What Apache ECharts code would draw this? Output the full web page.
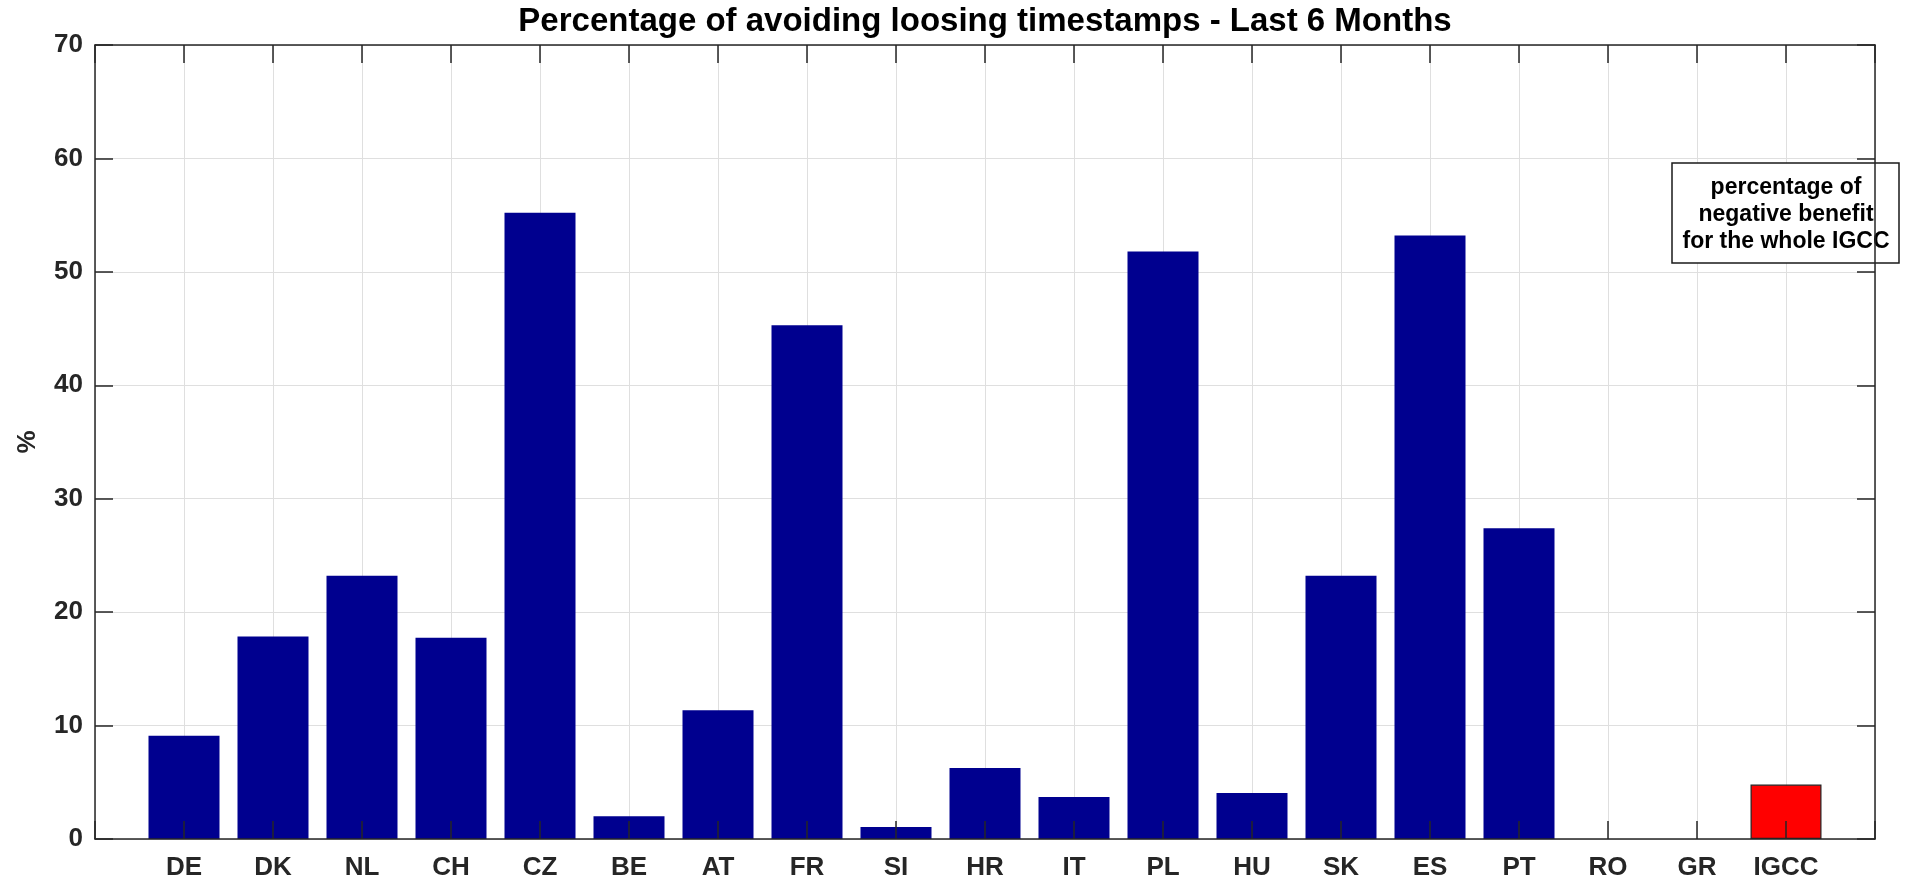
<!DOCTYPE html>
<html>
<head>
<meta charset="utf-8">
<title>Percentage of avoiding loosing timestamps</title>
<script src="https://cdn.jsdelivr.net/npm/echarts@6.0.0/dist/echarts.min.js"></script>
<style>
  html, body { margin: 0; padding: 0; background: #fff; }
  #chart { width: 1908px; height: 881px; }
</style>
</head>
<body>
<div id="chart"></div>
<script>
// data
const countries = ['DE', 'DK', 'NL', 'CH', 'CZ', 'BE', 'AT', 'FR', 'SI', 'HR',
  'IT', 'PL', 'HU', 'SK', 'ES', 'PT', 'RO', 'GR', 'IGCC'];
const percentages = [9.1, 17.85, 23.2, 17.75, 55.2, 2.0, 11.35, 45.3, 1.05, 6.25,
  3.7, 51.8, 4.05, 23.2, 53.2, 27.4, 0, 0, 4.8];
const highlighted = ['IGCC'];
const yTicks = { min: 0, max: 70, step: 10 };
const titleText = 'Percentage of avoiding loosing timestamps - Last 6 Months';
const yName = '%';
const noteLines = ['percentage of', 'negative benefit', 'for the whole IGCC'];

const font = '"Liberation Sans", Arial, Helvetica, sans-serif';
const axisColor = '#262626';
const gridColor = '#dfdfdf';
const barColor = '#00008f';
const lineStyle = { color: axisColor, width: 1.5 };

const chart = echarts.init(document.getElementById('chart'), null, { renderer: 'canvas' });

// x runs 0..n+1 so every bar sits on an integer like the original
const xRange = { min: 0, max: countries.length + 1, interval: 1 };

// axis that only draws the frame line and inward ticks (above the bars)
function frameX(position) {
  return Object.assign({
    type: 'value', position: position, z: 10,
    axisLine: { show: true, onZero: false, lineStyle: lineStyle },
    axisTick: { show: true, inside: true, length: 18, lineStyle: lineStyle },
    axisLabel: { show: false },
    splitLine: { show: false }
  }, xRange);
}

function frameY(position) {
  return {
    type: 'value', position: position, z: 10,
    min: yTicks.min, max: yTicks.max, interval: yTicks.step,
    axisLine: { show: true, onZero: false, lineStyle: lineStyle },
    axisTick: { show: true, inside: true, length: 18, lineStyle: lineStyle },
    axisLabel: { show: false },
    splitLine: { show: false }
  };
}

const barData = countries.map((name, i) => {
  const item = { value: [i + 1, percentages[i]] };
  if (highlighted.indexOf(name) >= 0) {
    item.itemStyle = { color: '#ff0000', borderColor: '#222', borderWidth: 1.2 };
  }
  return item;
});

const option = {
  backgroundColor: '#ffffff',
  animation: false,
  grid: { left: 95, right: 33, top: 45, bottom: 42, containLabel: false },
  xAxis: [
    Object.assign({
      type: 'value', position: 'bottom', z: 0,
      axisLine: { show: false, onZero: false },
      axisTick: { show: false },
      splitLine: { show: true, lineStyle: { color: gridColor, width: 1 } },
      axisLabel: {
        margin: 16, fontSize: 26, fontWeight: 'bold', color: axisColor, fontFamily: font,
        formatter: v => countries[v - 1] || ''
      }
    }, xRange),
    frameX('bottom'),
    frameX('top')
  ],
  yAxis: [
    {
      type: 'value', position: 'left', z: 0,
      min: yTicks.min, max: yTicks.max, interval: yTicks.step,
      axisLine: { show: false, onZero: false },
      axisTick: { show: false },
      splitLine: { show: true, lineStyle: { color: gridColor, width: 1 } },
      axisLabel: { margin: 12, fontSize: 26, fontWeight: 'bold', color: axisColor, fontFamily: font }
    },
    frameY('left'),
    frameY('right')
  ],
  series: [{
    type: 'bar',
    xAxisIndex: 0,
    yAxisIndex: 0,
    z: 2,
    barWidth: 71,
    itemStyle: { color: barColor },
    data: barData
  }],
  graphic: [
    {
      type: 'text', x: 985, y: 22, z: 20,
      style: {
        text: titleText, align: 'center', verticalAlign: 'middle',
        font: 'bold 33px ' + font, fill: '#000'
      }
    },
    {
      type: 'text', x: 28, y: 442, rotation: Math.PI / 2, z: 20,
      style: {
        text: yName, align: 'center', verticalAlign: 'middle',
        font: 'bold 26px ' + font, fill: axisColor
      }
    },
    {
      type: 'rect', z: 5,
      shape: { x: 1672, y: 163, width: 227, height: 100 },
      style: { fill: '#fff', stroke: '#1a1a1a', lineWidth: 1.5 }
    },
    {
      type: 'text', x: 1786, y: 215, z: 6,
      style: {
        text: noteLines.join('\n'), align: 'center', verticalAlign: 'middle',
        font: 'bold 23px ' + font, lineHeight: 27, fill: '#000'
      }
    }
  ]
};

chart.setOption(option);
</script>
</body>
</html>
